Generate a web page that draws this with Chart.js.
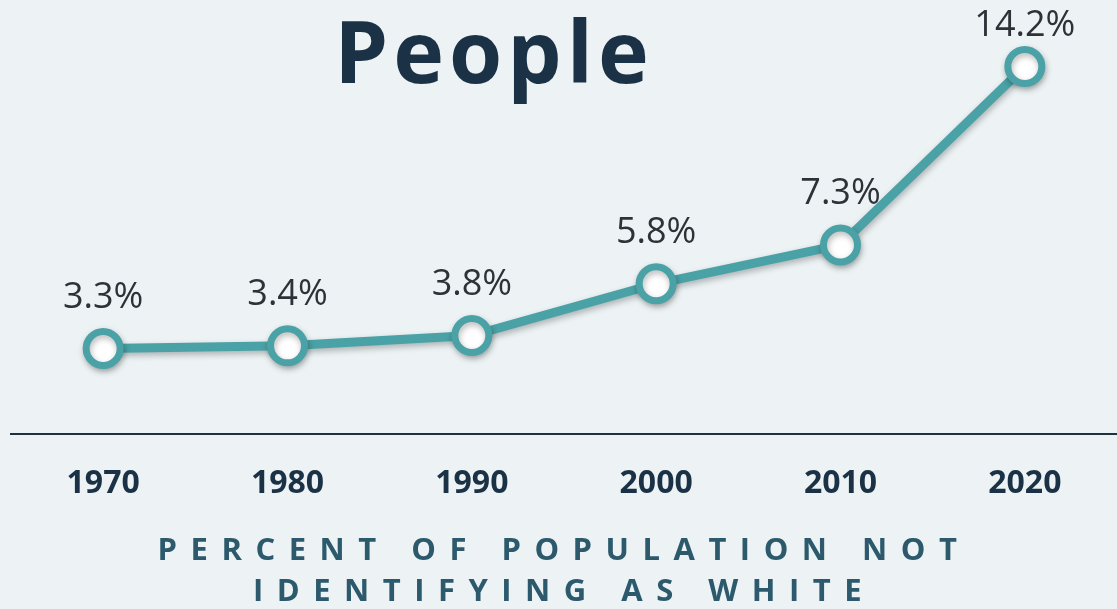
<!DOCTYPE html>
<html>
<head>
    <title>People</title>
    <script src="https://cdn.jsdelivr.net/npm/chart.js"></script>
    <style>
        html, body { margin: 0; padding: 0; background: #edf3f5; }
    </style>
</head>
<body>
    <canvas id="peopleChart" width="1117" height="609"></canvas>

    <script>
        const years = ['1970', '1980', '1990', '2000', '2010', '2020'];
        const notWhite = [3.3, 3.4, 3.8, 5.8, 7.3, 14.2];
        const chartTitle = 'People';
        const axisCaption = ['PERCENT OF POPULATION NOT', 'IDENTIFYING AS WHITE'];

        const teal = '#4aa2a6';
        const navy = '#1b3246';

        // letter spacing for the axis caption only (title is drawn in the grid layer, ticks come later)
        const spacing = {
            id: 'spacing',
            beforeDraw(chart) { chart.ctx.letterSpacing = '13.5px'; },
            beforeDatasetsDraw(chart) {
                const ctx = chart.ctx;
                ctx.letterSpacing = '0px';
                ctx.save();
                ctx.shadowColor = 'rgba(0,0,0,0.28)';
                ctx.shadowBlur = 6;
                ctx.shadowOffsetX = 1;
                ctx.shadowOffsetY = 3;
            },
            afterDatasetsDraw(chart) {
                const ctx = chart.ctx;
                ctx.restore();
                // value labels
                const meta = chart.getDatasetMeta(0);
                ctx.save();
                ctx.font = '400 36px "Open Sans"';
                ctx.fillStyle = '#2c3238';
                ctx.textAlign = 'center';
                ctx.textBaseline = 'middle';
                meta.data.forEach((pt, i) => {
                    const y = Math.max(pt.y - 51, 26);
                    ctx.fillText(notWhite[i].toFixed(1) + '%', pt.x, y);
                });
                ctx.restore();
            },
            afterDraw(chart) {
                const ctx = chart.ctx;
                ctx.save();
                ctx.letterSpacing = '5px';
                ctx.font = '700 86px "Open Sans"';
                ctx.fillStyle = navy;
                ctx.textAlign = 'center';
                ctx.textBaseline = 'alphabetic';
                ctx.fillText(chartTitle, 494, 83);
                ctx.restore();
            }
        };

        const ctx = document.getElementById('peopleChart').getContext('2d');
        const peopleChart = new Chart(ctx, {
            type: 'line',
            data: {
                labels: years,
                datasets: [{
                    data: notWhite,
                    borderColor: teal,
                    borderWidth: 9,
                    pointRadius: 17,
                    pointHoverRadius: 17,
                    pointBorderWidth: 7,
                    pointBackgroundColor: '#ffffff',
                    pointBorderColor: teal,
                    tension: 0
                }]
            },
            options: {
                responsive: false,
                animation: false,
                layout: { autoPadding: false, padding: { top: 20, left: 11, right: 0, bottom: 0 } },
                plugins: {
                    legend: { display: false },
                    tooltip: { enabled: false }
                },
                scales: {
                    x: {
                        offset: true,
                        grid: { display: false, drawTicks: false },
                        border: { display: true, color: '#1e3140', width: 2 },
                        ticks: {
                            z: 1,
                            padding: 31,
                            color: navy,
                            font: { family: 'Open Sans', size: 32, weight: '700', lineHeight: 1.2 }
                        },
                        title: {
                            display: true,
                            text: axisCaption,
                            color: '#2c5a6c',
                            padding: { top: -3, bottom: -4 },
                            font: { family: 'Open Sans', size: 31, weight: '700', lineHeight: 1.32 }
                        }
                    },
                    y: {
                        display: false,
                        min: 0,
                        max: 16
                    }
                }
            },
            plugins: [spacing]
        });
    </script>
</body>
</html>
